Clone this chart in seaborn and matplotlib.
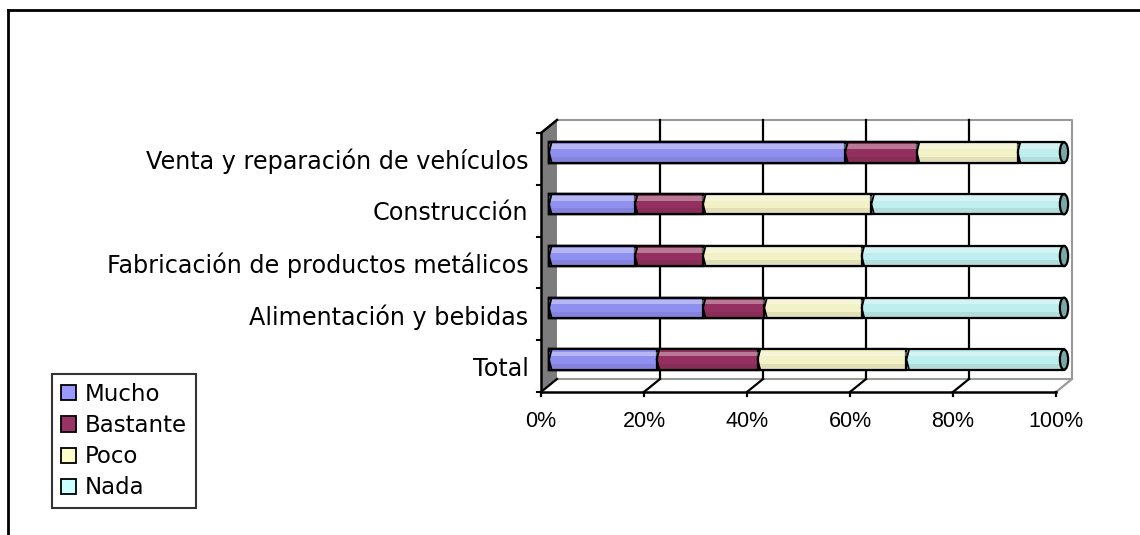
import numpy as np
import pandas as pd
import seaborn as sns
import matplotlib.pyplot as plt
from matplotlib.patches import Patch, Polygon, Ellipse
from matplotlib.lines import Line2D
from matplotlib.transforms import ScaledTranslation

# Data (percent of firms per sector)
CATEGORIES = ['Venta y reparación de vehículos', 'Construcción',
              'Fabricación de productos metálicos', 'Alimentación y bebidas', 'Total']
LEVELS = ['Mucho', 'Bastante', 'Poco', 'Nada']
MUCHO = [57.5, 16.7, 16.7, 29.9, 20.9]
BASTANTE = [13.9, 13.2, 13.2, 11.9, 19.6]
POCO = [19.6, 32.7, 30.8, 18.9, 28.9]
NADA = [9.0, 37.4, 39.3, 39.3, 30.6]
X_TICKS = [0, 20, 40, 60, 80, 100]

LEGEND_COLORS = {'Mucho': '#9999FF', 'Bastante': '#993366', 'Poco': '#FFFFCC', 'Nada': '#CCFFFF'}
BAR_COLORS = {'Mucho': '#8f8ff0', 'Bastante': '#93305f', 'Poco': '#f3f1c6', 'Nada': '#bfeeee'}

W, H, DPI = 1140, 535, 100
plt.rcParams['font.family'] = ['Liberation Sans', 'DejaVu Sans']
WIDE = ['DejaVu Sans']  # the reference labels are drawn with a wide face

df = pd.DataFrame({'Sector': CATEGORIES, 'Mucho': MUCHO, 'Bastante': BASTANTE,
                   'Poco': POCO, 'Nada': NADA})
cum = df[LEVELS].cumsum(axis=1)

fig = plt.figure(figsize=(W / DPI, H / DPI), dpi=DPI)

# front plane of the 3D box, in pixels
x0, x1, ytop, ybot = 541, 1056, 133, 392
ax = fig.add_axes([x0 / W, (H - ybot) / H, (x1 - x0) / W, (ybot - ytop) / H])

# depth of the box in pixels
DX, DY = 16, 13
ppu_x = (x1 - x0) / 100
ppu_y = (ybot - ytop) / len(CATEGORIES)
dx, dy = DX / ppu_x, DY / ppu_y

# stacked bars: draw cumulative totals from the last level to the first
for lvl in reversed(LEVELS):
    sns.barplot(x=cum[lvl], y=df['Sector'], color=BAR_COLORS[lvl], width=0.39,
                edgecolor='black', linewidth=1.6, saturation=1, ax=ax, zorder=3)

ax.set_xlim(0, 100)
ax.set_ylim(len(CATEGORIES) - 0.5, -0.5)

# bars sit half way into the depth
mid = ax.transData + ScaledTranslation(DX / 2 / DPI, DY / 2 / DPI, fig.dpi_scale_trans)
for p in ax.patches:
    p.set_transform(mid)
    p.set_clip_on(False)

# cylinder shading
ypos = np.arange(len(CATEGORIES))
ax.barh(ypos - 0.11, cum['Nada'], height=0.09, left=0, color='white', alpha=0.35,
        transform=mid, zorder=4, clip_on=False)
ax.barh(ypos + 0.13, cum['Nada'], height=0.1, left=0, color='black', alpha=0.07,
        transform=mid, zorder=4, clip_on=False)
for i in range(len(CATEGORIES)):
    ax.add_patch(Ellipse((cum['Nada'][i], i), 1.6, 0.39, facecolor='#7aa8a8',
                         edgecolor='black', lw=1.6, transform=mid, zorder=5, clip_on=False))
    for b in [0] + [cum[lvl][i] for lvl in LEVELS[:-1]]:
        ax.plot([b + 0.5, b, b + 0.5], [i - 0.19, i, i + 0.19], color='black', lw=1.3,
                transform=mid, zorder=5, clip_on=False)

n = len(CATEGORIES)
top, bot = -0.5, n - 0.5
grey = '#9a9a9a'

# side wall
ax.add_patch(Polygon([(0, top), (dx, top - dy), (dx, bot - dy), (0, bot)], closed=True,
                     facecolor='#7c7c7c', edgecolor='none', zorder=1, clip_on=False))
ax.plot([0, dx], [top, top - dy], color='black', lw=1.8, zorder=2, clip_on=False)
ax.plot([0, 0], [top, bot], color='black', lw=1.8, zorder=6, clip_on=False)
for yb in np.arange(top, bot + 0.01, 1.0):
    ax.plot([-0.8, 0], [yb, yb], color='black', lw=1.5, zorder=6, clip_on=False)

# back wall frame
ax.plot([dx, 100 + dx, 100 + dx, dx], [top - dy, top - dy, bot - dy, bot - dy],
        color=grey, lw=1.5, zorder=1, clip_on=False)
for v in X_TICKS[1:-1]:
    ax.plot([v + dx, v + dx], [top - dy, bot - dy], color='black', lw=1.6, zorder=1, clip_on=False)
# floor
for v in X_TICKS:
    ax.plot([v, v + dx], [bot, bot - dy], color='black' if v < 100 else grey, lw=1.6,
            zorder=1, clip_on=False)
    ax.plot([v, v], [bot, bot + 0.08], color='black', lw=1.6, zorder=6, clip_on=False)
ax.plot([0, 100], [bot, bot], color='black', lw=1.8, zorder=6, clip_on=False)

for s in ax.spines.values():
    s.set_visible(False)
ax.set_xlabel('')
ax.set_ylabel('')
ax.set_xticks(X_TICKS)
ax.set_xticklabels([f'{v}%' for v in X_TICKS], fontsize=15.5)
ax.tick_params(axis='x', length=0, pad=14)
ax.set_yticks(range(n))
ax.set_yticklabels(CATEGORIES, fontsize=17.2, family=WIDE)
ax.tick_params(axis='y', length=0, pad=9)

# legend
handles = [Patch(facecolor=LEGEND_COLORS[l], edgecolor='black', lw=1.3) for l in LEVELS]
leg = fig.legend(handles, LEVELS, loc='upper left', bbox_to_anchor=(52 / W, (H - 374) / H),
                 prop={'family': WIDE, 'size': 16.5}, frameon=True, fancybox=False,
                 borderaxespad=0, handlelength=0.65, handleheight=0.65, handletextpad=0.42,
                 labelspacing=0.36, borderpad=0.38)
leg.get_frame().set_edgecolor('black')
leg.get_frame().set_linewidth(1.5)

# outer border
fig.add_artist(Line2D([8 / W, 8 / W], [0, (H - 10) / H], color='black', lw=2))
fig.add_artist(Line2D([8 / W, 1], [(H - 10) / H, (H - 10) / H], color='black', lw=2))

fig.savefig('out.png', dpi=DPI)
